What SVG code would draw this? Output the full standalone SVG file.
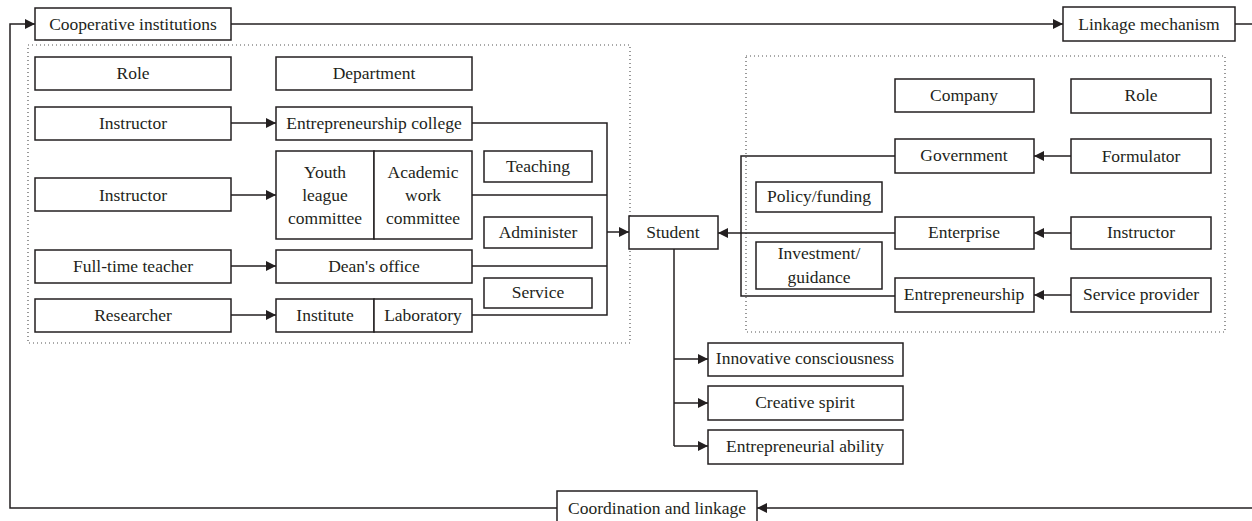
<svg xmlns="http://www.w3.org/2000/svg" width="1252" height="521" viewBox="0 0 1252 521">
<style>
.b{fill:#fff;stroke:#231f20;stroke-width:1.5}
.t{font-family:"Liberation Serif",serif;font-size:17.5px;fill:#231f20;text-anchor:middle;dominant-baseline:central}
.c{fill:none;stroke:#231f20;stroke-width:1.5}
.a{fill:none;stroke:#231f20;stroke-width:1.5;marker-end:url(#ah)}
.d{fill:none;stroke:#555;stroke-width:1.2;stroke-dasharray:1 3}
</style>
<defs>
<marker id="ah" markerUnits="userSpaceOnUse" markerWidth="11" markerHeight="11" refX="10" refY="5" orient="auto">
<path d="M0,0 L10,5 L0,10 z" fill="#231f20"/>
</marker>
</defs>
<rect width="1252" height="521" fill="#fff"/>
<g id="regions">
<rect class="d" x="28" y="45" width="602" height="298"/>
<rect class="d" x="746" y="56" width="479" height="276"/>
</g>
<g id="connectors">
<path class="a" d="M231,24 H1063"/>
<path class="c" d="M1235,24 H1252"/>
<path class="a" d="M557,508 H10 V24 H35"/>
<path class="a" d="M1252,508 H757"/>
<path class="a" d="M231,123 H276"/>
<path class="a" d="M231,195 H276"/>
<path class="a" d="M231,266 H276"/>
<path class="a" d="M231,315 H276"/>
<path class="c" d="M472,123 H607 V315 H472 M472,195 H607 M472,266 H607"/>
<path class="a" d="M607,232 H629"/>
<path class="a" d="M895,233 H718"/>
<path class="c" d="M895,156 H741 V296 H895"/>
<path class="a" d="M1071,156 H1034"/>
<path class="a" d="M1071,233 H1034"/>
<path class="a" d="M1071,295 H1034"/>
<path class="c" d="M674,249 V446"/>
<path class="a" d="M674,359 H708"/>
<path class="a" d="M674,403 H708"/>
<path class="a" d="M674,446 H708"/>
</g>
<g id="n-coop"><rect class="b" x="35" y="8" width="196" height="32"/><text class="t" x="133" y="24">Cooperative institutions</text></g>
<g id="n-linkage"><rect class="b" x="1063" y="7" width="172" height="34"/><text class="t" x="1149" y="24">Linkage mechanism</text></g>
<g id="n-coord"><rect class="b" x="557" y="491" width="200" height="40"/><text class="t" x="657" y="508">Coordination and linkage</text></g>
<g id="n-role1"><rect class="b" x="35" y="57" width="196" height="33"/><text class="t" x="133" y="73">Role</text></g>
<g id="n-dept"><rect class="b" x="276" y="57" width="196" height="33"/><text class="t" x="374" y="73">Department</text></g>
<g id="n-instr1"><rect class="b" x="35" y="107" width="196" height="33"/><text class="t" x="133" y="123">Instructor</text></g>
<g id="n-entcol"><rect class="b" x="276" y="107" width="196" height="33"/><text class="t" x="374" y="123">Entrepreneurship college</text></g>
<g id="n-instr2"><rect class="b" x="35" y="178" width="196" height="33"/><text class="t" x="133" y="195">Instructor</text></g>
<g id="n-youth"><rect class="b" x="276" y="151" width="98" height="88"/><text class="t" x="325" y="172">Youth</text><text class="t" x="325" y="195">league</text><text class="t" x="325" y="218">committee</text></g>
<g id="n-academic"><rect class="b" x="374" y="151" width="98" height="88"/><text class="t" x="423" y="172">Academic</text><text class="t" x="423" y="195">work</text><text class="t" x="423" y="218">committee</text></g>
<g id="n-teaching"><rect class="b" x="484" y="151" width="108" height="31"/><text class="t" x="538" y="166">Teaching</text></g>
<g id="n-administer"><rect class="b" x="484" y="217" width="108" height="31"/><text class="t" x="538" y="232">Administer</text></g>
<g id="n-service"><rect class="b" x="484" y="278" width="108" height="30"/><text class="t" x="538" y="292">Service</text></g>
<g id="n-fulltime"><rect class="b" x="35" y="250" width="196" height="33"/><text class="t" x="133" y="266">Full-time teacher</text></g>
<g id="n-dean"><rect class="b" x="276" y="250" width="196" height="33"/><text class="t" x="374" y="266">Dean's office</text></g>
<g id="n-researcher"><rect class="b" x="35" y="299" width="196" height="33"/><text class="t" x="133" y="315">Researcher</text></g>
<g id="n-institute"><rect class="b" x="276" y="299" width="98" height="33"/><text class="t" x="325" y="315">Institute</text></g>
<g id="n-lab"><rect class="b" x="374" y="299" width="98" height="33"/><text class="t" x="423" y="315">Laboratory</text></g>
<g id="n-student"><rect class="b" x="629" y="216" width="89" height="33"/><text class="t" x="673" y="232">Student</text></g>
<g id="n-company"><rect class="b" x="895" y="79" width="139" height="33"/><text class="t" x="964" y="95">Company</text></g>
<g id="n-role2"><rect class="b" x="1071" y="79" width="140" height="34"/><text class="t" x="1141" y="95">Role</text></g>
<g id="n-gov"><rect class="b" x="895" y="139" width="139" height="34"/><text class="t" x="964" y="155">Government</text></g>
<g id="n-formulator"><rect class="b" x="1071" y="139" width="140" height="34"/><text class="t" x="1141" y="156">Formulator</text></g>
<g id="n-policy"><rect class="b" x="756" y="182" width="126" height="30"/><text class="t" x="819" y="196">Policy/funding</text></g>
<g id="n-enterprise"><rect class="b" x="895" y="217" width="139" height="32"/><text class="t" x="964" y="232">Enterprise</text></g>
<g id="n-instr3"><rect class="b" x="1071" y="217" width="140" height="32"/><text class="t" x="1141" y="232">Instructor</text></g>
<g id="n-invest"><rect class="b" x="756" y="242" width="126" height="47"/><text class="t" x="819" y="253">Investment/</text><text class="t" x="819" y="277">guidance</text></g>
<g id="n-entship"><rect class="b" x="895" y="278" width="139" height="34"/><text class="t" x="964" y="294">Entrepreneurship</text></g>
<g id="n-provider"><rect class="b" x="1071" y="278" width="140" height="34"/><text class="t" x="1141" y="294">Service provider</text></g>
<g id="n-innov"><rect class="b" x="708" y="343" width="195" height="33"/><text class="t" x="805" y="358">Innovative consciousness</text></g>
<g id="n-creative"><rect class="b" x="708" y="386" width="195" height="34"/><text class="t" x="805" y="402">Creative spirit</text></g>
<g id="n-ability"><rect class="b" x="708" y="430" width="195" height="34"/><text class="t" x="805" y="446">Entrepreneurial ability</text></g>
</svg>
